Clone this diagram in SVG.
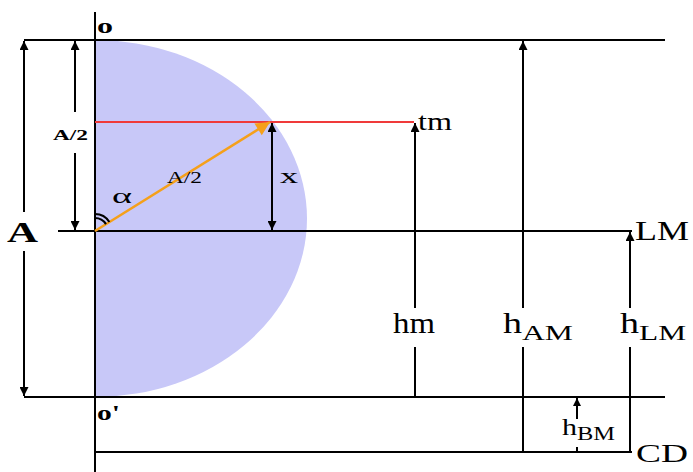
<svg xmlns="http://www.w3.org/2000/svg" width="693" height="472" viewBox="0 0 693 472">
<defs>
<style>
.ln{stroke:#000;stroke-width:2;fill:none}
.t{font-family:"Liberation Serif","Times New Roman",serif;fill:#000}
.b{font-weight:bold}
</style>
<marker id="ah" viewBox="0 0 10 10" refX="10" refY="5" markerWidth="12" markerHeight="9" markerUnits="userSpaceOnUse" orient="auto-start-reverse">
<path d="M0,0 L10,5 L0,10 z" fill="#000"/>
</marker>
<marker id="ahs" viewBox="0 0 10 10" refX="10" refY="5" markerWidth="10" markerHeight="8" markerUnits="userSpaceOnUse" orient="auto">
<path d="M0,0 L10,5 L0,10 z" fill="#000"/>
</marker>
<marker id="ao" viewBox="0 0 10 10" refX="10" refY="5" markerWidth="22" markerHeight="14" markerUnits="userSpaceOnUse" orient="auto">
<path d="M0,0 L10,5 L0,10 z" fill="#f5a01a"/>
</marker>
</defs>
<rect width="693" height="472" fill="#fff"/>
<g id="shape">
<path d="M95,40 A212,178.5 0 0 1 95,397 Z" fill="#c8c8f8"/>
</g>
<g id="lines">
<line class="ln" x1="95" y1="12" x2="95" y2="472"/>
<line class="ln" x1="24" y1="40" x2="665" y2="40"/>
<line class="ln" x1="58" y1="231" x2="632" y2="231"/>
<line class="ln" x1="24" y1="397" x2="665" y2="397"/>
<line class="ln" x1="95" y1="452" x2="632" y2="452"/>
<line x1="95" y1="122" x2="414" y2="122" stroke="#f03a3a" stroke-width="2"/>
</g>
<g id="connectors">
<line class="ln" x1="24" y1="212" x2="24" y2="41" marker-end="url(#ah)"/>
<line class="ln" x1="24" y1="251" x2="24" y2="396" marker-end="url(#ah)"/>
<line class="ln" x1="75" y1="112" x2="75" y2="41" marker-end="url(#ah)"/>
<line class="ln" x1="75" y1="153" x2="75" y2="230" marker-end="url(#ah)"/>
<line class="ln" x1="272" y1="123" x2="272" y2="230" marker-start="url(#ah)" marker-end="url(#ah)"/>
<line x1="95" y1="231" x2="270" y2="122" stroke="#f5a01a" stroke-width="2.5" marker-end="url(#ao)"/>
<line class="ln" x1="415" y1="397" x2="415" y2="347"/>
<line class="ln" x1="415" y1="308" x2="415" y2="123" marker-end="url(#ah)"/>
<line class="ln" x1="523" y1="452" x2="523" y2="347"/>
<line class="ln" x1="523" y1="308" x2="523" y2="41" marker-end="url(#ah)"/>
<line class="ln" x1="630" y1="452" x2="630" y2="347"/>
<line class="ln" x1="630" y1="308" x2="630" y2="232" marker-end="url(#ah)"/>
<line class="ln" x1="577" y1="419" x2="577" y2="398" marker-end="url(#ahs)"/>
<line class="ln" x1="577" y1="447" x2="577" y2="452"/>
<path d="M95,214 A17,17 0 0 1 109.4,222" stroke="#000" stroke-width="2" fill="none"/>
<path d="M95,218 A13,13 0 0 1 106,224.1" stroke="#000" stroke-width="2" fill="none"/>
</g>
<g id="labels" font-family="Liberation Serif, Times New Roman, serif">
<text class="t b" x="97" y="33" font-size="21" textLength="16" lengthAdjust="spacingAndGlyphs">o</text>
<text class="t b" x="97" y="420" font-size="21" textLength="23" lengthAdjust="spacingAndGlyphs">o'</text>
<text class="t b" x="7" y="242" font-size="30" textLength="31" lengthAdjust="spacingAndGlyphs">A</text>
<text class="t b" x="53" y="140" font-size="15" textLength="35" lengthAdjust="spacingAndGlyphs">A/2</text>
<text class="t" x="167" y="183" font-size="16" textLength="35" lengthAdjust="spacingAndGlyphs">A/2</text>
<text class="t" x="112" y="203" font-size="20" textLength="20" lengthAdjust="spacingAndGlyphs">α</text>
<text class="t" x="280" y="183" font-size="22" textLength="18" lengthAdjust="spacingAndGlyphs">x</text>
<text class="t" x="418" y="130" font-size="26" textLength="34" lengthAdjust="spacingAndGlyphs">tm</text>
<text class="t" x="635" y="240" font-size="27" textLength="54" lengthAdjust="spacingAndGlyphs">LM</text>
<text class="t" x="636" y="462" font-size="26" textLength="52" lengthAdjust="spacingAndGlyphs">CD</text>
<text class="t" x="393" y="333" font-size="29" textLength="42" lengthAdjust="spacingAndGlyphs">hm</text>
<text class="t" x="503" y="333" font-size="29" textLength="19" lengthAdjust="spacingAndGlyphs">h</text>
<text class="t" x="522" y="340" font-size="22" textLength="51" lengthAdjust="spacingAndGlyphs">AM</text>
<text class="t" x="620" y="333" font-size="29" textLength="19" lengthAdjust="spacingAndGlyphs">h</text>
<text class="t" x="639" y="340" font-size="22" textLength="47" lengthAdjust="spacingAndGlyphs">LM</text>
<text class="t" x="562" y="435" font-size="24" textLength="15" lengthAdjust="spacingAndGlyphs">h</text>
<text class="t" x="577" y="440" font-size="18" textLength="38" lengthAdjust="spacingAndGlyphs">BM</text>
</g>
</svg>
